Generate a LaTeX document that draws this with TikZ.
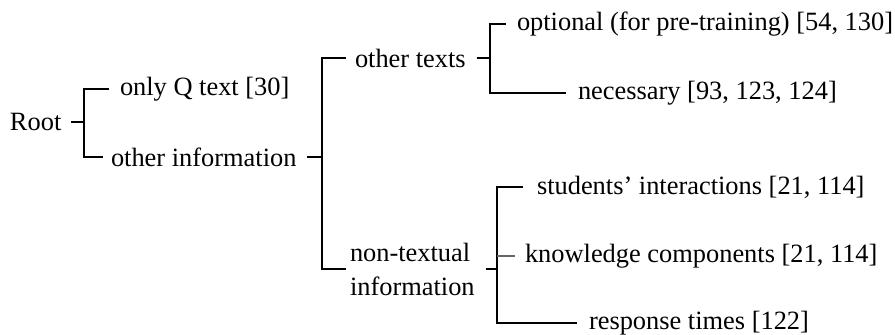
\documentclass[tikz,border=0pt]{standalone}
\usepackage{fontspec}
\setmainfont{Liberation Serif}
\begin{document}
\begin{tikzpicture}[x=0.5pt,y=-0.5pt,
  label/.style={anchor=west,inner sep=0pt,outer sep=0pt,
    font=\fontsize{13.2}{17}\selectfont},
  branch/.style={line width=0.55pt},
  faint/.style={branch,draw=black!60}]
\useasboundingbox (0,0) rectangle (895,335);

% labels, placed by the left edge of their text
\node[label] (root) at (10,122) {Root};
\node[label] (onlyq) at (120,89) {only Q text [30]};
\node[label] (otherinfo) at (111,157) {other information};
\node[label] (othertexts) at (355,58) {other texts};
\node[label,align=left] (nontext) at (350,269) {non-textual\\information};
\node[label] (optional) at (517,24) {optional (for pre-training) [54, 130]};
\node[label] (necessary) at (578,93) {necessary [93, 123, 124]};
\node[label] (students) at (537,187) {students' interactions [21, 114]};
\node[label] (knowledge) at (525,256) {knowledge components [21, 114]};
\node[label] (response) at (589,323) {response times [122]};

% x positions of the bracket spines
\coordinate (x1) at (84,0);
\coordinate (x2) at (322,0);
\coordinate (x3) at (490,0);
\coordinate (x4) at (497,0);

% fork points, level with their parent
\coordinate (f1) at (root.east -| x1);
\coordinate (f2) at (otherinfo.east -| x2);
\coordinate (f3) at (othertexts.east -| x3);
\coordinate (f4) at (nontext.east -| x4);

% Root
\draw[branch] ([xshift=5pt]root.east) -- (f1);
\draw[branch] (f1) |- ([xshift=-5.5pt]onlyq.west);
\draw[branch] (f1) |- ([xshift=-4pt]otherinfo.west);

% other information
\draw[branch] ([xshift=5.5pt]otherinfo.east) -- (f2);
\draw[branch] (f2) |- ([xshift=-4.5pt]othertexts.west);
\draw[branch] (f2) |- ([xshift=-2pt]nontext.west);

% other texts
\draw[branch] ([xshift=5.5pt]othertexts.east) -- (f3);
\draw[branch] (f3) |- ([xshift=-5.5pt]optional.west);
\draw[branch] (f3) |- ([xshift=-6pt]necessary.west);

% non-textual information
\draw[branch] ([xshift=5.5pt]nontext.east) -- (f4);
\draw[branch] (f4) |- ([xshift=-7pt]students.west);
\draw[faint] (knowledge.west -| f4) -- ([xshift=-5pt]knowledge.west);
\draw[branch] (f4) |- ([xshift=-6pt]response.west);
\end{tikzpicture}
\end{document}
